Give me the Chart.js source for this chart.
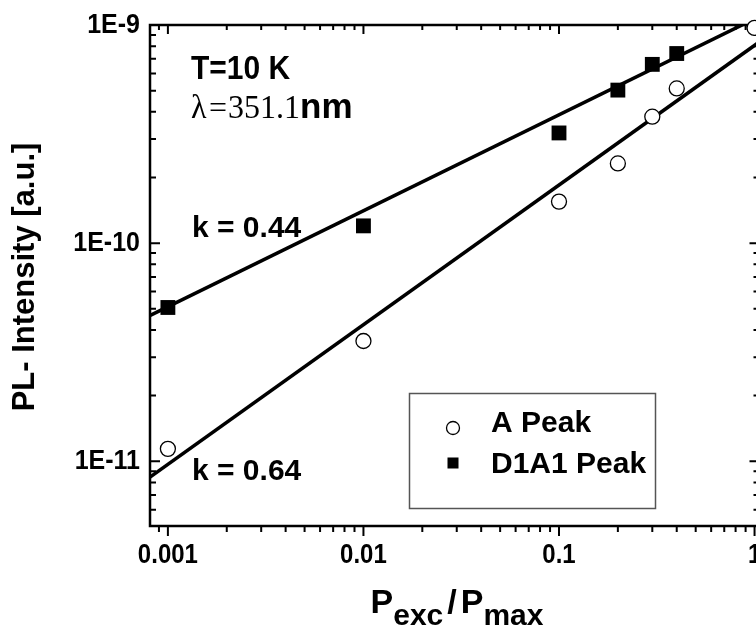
<!DOCTYPE html>
<html>
<head>
<meta charset="utf-8">
<script src="https://cdn.jsdelivr.net/npm/chart.js@4.4.1/dist/chart.umd.min.js"></script>
<style>
  html, body { margin: 0; padding: 0; background: #fff; overflow: hidden; }
  #wrap { width: 770px; height: 627px; }
</style>
</head>
<body>
<div id="wrap"><canvas id="chart" width="770" height="627"></canvas></div>
<script>
// measured data, P_exc / P_max vs PL intensity
const powerA = [0.001, 0.01, 0.1, 0.2, 0.3, 0.4, 1];
const aPeak = [1.14e-11, 3.56e-11, 1.55e-10, 2.32e-10, 3.8e-10, 5.12e-10, 9.7e-10];
const powerD = [0.001, 0.01, 0.1, 0.2, 0.3, 0.4];
const d1a1Peak = [5.07e-11, 1.2e-10, 3.2e-10, 5.03e-10, 6.6e-10, 7.4e-10];

// fit lines (end points)
const fitX = [0.0008, 1.2];
const fitA = [8.4e-12, 9.06e-10];
const fitD1A1 = [4.63e-11, 1.156e-9];

const seriesNames = ["A Peak", "D1A1 Peak"];
const xTickValues = [0.001, 0.01, 0.1, 1];
const xTickLabels = ["0.001", "0.01", "0.1", "1"];
const yTickValues = [1e-11, 1e-10, 1e-9];
const yTickLabels = ["1E-11", "1E-10", "1E-9"];

const xMin = 0.00081, xMax = 1.06;
const yMin = 5.05e-12, yMax = 1e-9;

const SANS = '"Liberation Sans", Arial, sans-serif';
const SERIF = '"Liberation Serif", "Times New Roman", serif';

function pts(xs, ys) {
  return xs.map((x, i) => ({ x: x, y: ys[i] }));
}

function logTicks(min, max) {
  const out = [];
  for (let e = Math.floor(Math.log10(min)); e <= Math.ceil(Math.log10(max)); e++) {
    for (let k = 1; k <= 9; k++) {
      const v = k * Math.pow(10, e);
      if (v >= min * 0.999 && v <= max * 1.001) out.push({ v: v, major: k === 1 });
    }
  }
  return out;
}

function txt(ctx, s, x, y, font, align, sy) {
  ctx.save();
  ctx.font = font;
  ctx.textAlign = align || "left";
  ctx.textBaseline = "alphabetic";
  ctx.translate(x, y);
  ctx.scale(1, sy || 1);
  ctx.fillText(s, 0, 0);
  ctx.restore();
}

const framePlugin = {
  id: "frame",
  beforeDatasetsDraw(chart) {
    const ctx = chart.ctx;
    const a = chart.chartArea;
    const xs = chart.scales.x, ys = chart.scales.y;
    ctx.save();
    ctx.strokeStyle = "#000";
    ctx.lineWidth = 2.5;
    ctx.strokeRect(a.left, a.top, a.right - a.left, a.bottom - a.top);
    ctx.lineWidth = 2;
    ctx.beginPath();
    logTicks(xMin, xMax).forEach(t => {
      const px = xs.getPixelForValue(t.v);
      ctx.moveTo(px, a.bottom);
      ctx.lineTo(px, a.bottom + (t.major ? 10 : 6));
      ctx.moveTo(px, a.top);
      ctx.lineTo(px, a.top + (t.major ? 9 : 5));
    });
    logTicks(yMin, yMax).forEach(t => {
      const py = ys.getPixelForValue(t.v);
      ctx.moveTo(a.left, py);
      ctx.lineTo(a.left + (t.major ? 10 : 6), py);
      ctx.moveTo(a.right, py);
      ctx.lineTo(a.right - (t.major ? 10 : 6), py);
    });
    ctx.stroke();
    ctx.restore();
  },
  afterDraw(chart) {
    const ctx = chart.ctx;
    const xs = chart.scales.x, ys = chart.scales.y;
    ctx.save();
    ctx.fillStyle = "#000";

    // tick labels
    xTickValues.forEach((v, i) => {
      txt(ctx, xTickLabels[i], xs.getPixelForValue(v), 563, "bold 24px " + SANS, "center", 1.12);
    });
    yTickValues.forEach((v, i) => {
      txt(ctx, yTickLabels[i], 140, ys.getPixelForValue(v) + 7.5, "bold 25px " + SANS, "right", 1.08);
    });

    // axis titles
    ctx.save();
    ctx.translate(25, 277);
    ctx.rotate(-Math.PI / 2);
    ctx.font = "bold 31px " + SANS;
    ctx.textAlign = "center";
    ctx.textBaseline = "middle";
    ctx.fillText("PL- Intensity [a.u.]", 0, 0);
    ctx.restore();

    const parts = [
      ["P", 34, 0, 0], ["exc", 30, 12, 4], ["/", 34, 0, 4], ["P", 34, 0, 0], ["max", 30, 12, 0]
    ];
    let total = 0;
    parts.forEach(p => { ctx.font = "bold " + p[1] + "px " + SANS; total += ctx.measureText(p[0]).width + p[3]; });
    let cx = 457 - total / 2;
    parts.forEach(p => {
      const f = "bold " + p[1] + "px " + SANS;
      txt(ctx, p[0], cx, 613 + p[2], f, "left", 1);
      ctx.font = f;
      cx += ctx.measureText(p[0]).width + p[3];
    });

    // annotations
    txt(ctx, "T=10 K", 191, 79, "bold 30px " + SANS, "left", 1.12);
    txt(ctx, "\u03bb", 191, 118, "32px " + SERIF, "left", 1.05);
    txt(ctx, "=", 209, 118, "32px " + SERIF, "left", 1);
    txt(ctx, "351.1", 228, 118, "32px " + SERIF, "left", 1.05);
    ctx.font = "32px " + SERIF;
    const nmX = 228 + ctx.measureText("351.1").width;
    txt(ctx, "nm", nmX, 118, "bold 35px " + SANS, "left", 1);
    txt(ctx, "k = 0.44", 192, 237, "bold 30px " + SANS, "left", 1);
    txt(ctx, "k = 0.64", 192, 480, "bold 30px " + SANS, "left", 1);

    // legend
    ctx.strokeStyle = "#555";
    ctx.lineWidth = 1.5;
    ctx.strokeRect(409.5, 393.5, 246, 115);
    ctx.strokeStyle = "#000";
    ctx.lineWidth = 1.3;
    ctx.beginPath();
    ctx.arc(453, 428, 6.5, 0, Math.PI * 2);
    ctx.fillStyle = "#fff";
    ctx.fill();
    ctx.stroke();
    ctx.fillStyle = "#000";
    ctx.fillRect(447.5, 457.5, 11, 11);
    txt(ctx, chart.data.datasets[0].label, 491, 432, "bold 30px " + SANS, "left", 1);
    txt(ctx, chart.data.datasets[1].label, 491, 473, "bold 30px " + SANS, "left", 1);
    ctx.restore();
  }
};

new Chart(document.getElementById("chart"), {
  type: "scatter",
  data: {
    datasets: [
      {
        label: seriesNames[0],
        data: pts(powerA, aPeak),
        pointStyle: "circle",
        pointRadius: 7.5,
        pointBackgroundColor: "#fff",
        pointBorderColor: "#000",
        pointBorderWidth: 1.3,
        clip: false,
        order: 0
      },
      {
        label: seriesNames[1],
        data: pts(powerD, d1a1Peak),
        pointStyle: "rect",
        pointRadius: 10.5,
        pointBackgroundColor: "#000",
        pointBorderColor: "#000",
        pointBorderWidth: 0,
        clip: false,
        order: 0
      },
      {
        label: "fit A",
        type: "line",
        data: pts(fitX, fitA),
        borderColor: "#000",
        borderWidth: 3.5,
        pointRadius: 0,
        fill: false,
        clip: 0,
        order: 1
      },
      {
        label: "fit D1A1",
        type: "line",
        data: pts(fitX, fitD1A1),
        borderColor: "#000",
        borderWidth: 3.5,
        pointRadius: 0,
        fill: false,
        clip: 0,
        order: 1
      }
    ]
  },
  options: {
    responsive: false,
    animation: false,
    devicePixelRatio: 1,
    layout: { padding: { left: 150, top: 25, right: 9, bottom: 101 } },
    plugins: { legend: { display: false }, tooltip: { enabled: false } },
    scales: {
      x: { type: "logarithmic", min: xMin, max: xMax, display: false },
      y: { type: "logarithmic", min: yMin, max: yMax, display: false }
    }
  },
  plugins: [framePlugin]
});
</script>
</body>
</html>
